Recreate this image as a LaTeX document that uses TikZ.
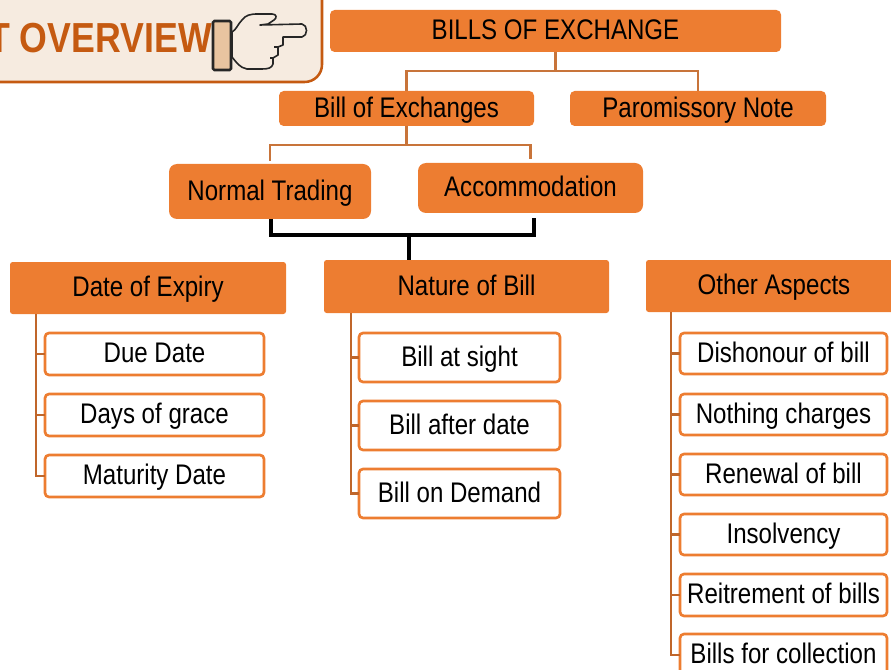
\documentclass[tikz,border=0pt]{standalone}
\usepackage{fontspec}
\setmainfont{Liberation Sans}
\newfontfamily\narrowf[FakeStretch=0.85]{Liberation Sans}
\definecolor{boxor}{HTML}{ED7D31}
\definecolor{connor}{HTML}{C8743A}
\definecolor{treeor}{HTML}{C0662A}
\definecolor{ovfill}{HTML}{F6EBE0}
\definecolor{ovline}{HTML}{C55A11}
\definecolor{cuff}{HTML}{E8C4A0}
\newcommand{\pbox}[7]{%
  \pgfmathsetmacro{\bw}{(#5-#3)*0.75}%
  \pgfmathsetmacro{\bh}{(#6-#4)*0.75}%
  \node[#2,minimum width=\bw pt,minimum height=\bh pt] (#1) at ({(#3+#5)/2},{(#4+#6)/2}) {#7};}
\tikzset{
  lbl/.style={inner sep=0pt,outer sep=0pt,font=\narrowf\fontsize{21.25pt}{25pt}\selectfont,text=black,text height=16.6pt,text depth=3.4pt,align=center},
  solidbox/.style={lbl,fill=boxor,rounded corners=#1},
  solidbox/.default=3.5pt,
  whitebox/.style={lbl,fill=white,draw=boxor,line width=2pt,rounded corners=3pt},
  conn/.style={draw=connor,line width=2.2pt},
  blackconn/.style={draw=black,line width=2.3pt},
  treeconn/.style={draw=treeor,line width=2.05pt}
}
\begin{document}
\begin{tikzpicture}[x=0.75pt,y=-0.75pt]
\useasboundingbox (0,0) rectangle (891,670);
% overview banner
\pbox{ov}{draw=ovline,fill=ovfill,line width=1.9pt,rounded corners=13pt,inner sep=0pt}{-30}{-30}{322}{82}{}
\node[anchor=base east,inner sep=0pt,text=ovline,font=\narrowf\bfseries\fontsize{31.5pt}{36pt}\selectfont] (ovt) at (212,53) {T OVERVIEW};
% pointing hand
\draw[draw=black!85,fill=ovfill,line width=1.2pt,line join=round]
  (232,32) .. controls (236,30) and (238,24) .. (242,20)
  .. controls (246,15) and (250,14) .. (258,14) -- (272,14)
  .. controls (277,14) and (277,18) .. (274,20) -- (268,24) -- (260,25) -- (302,24)
  .. controls (308,25) and (308,36) .. (302,37) -- (283,37)
  -- (283,45) -- (278,47) -- (278,55) -- (273,58) -- (273,64)
  .. controls (272,68) and (268,69) .. (262,69) -- (247,69)
  .. controls (240,68) and (236,62) .. (232,57) -- cycle;
\draw[draw=black!85,line width=1.1pt] (278,47) -- (274,47) (273,58) -- (270,58);
\pbox{cf}{draw=black!85,fill=cuff,line width=1.9pt,rounded corners=1pt}{213}{21}{231}{70}{}
% top
\pbox{top}{solidbox}{330}{10}{781}{52}{BILLS OF EXCHANGE}
\pbox{boe}{solidbox}{279}{91}{534}{126}{Bill of Exchanges}
\pbox{par}{solidbox}{570}{91}{826}{126}{Paromissory Note}
\pbox{nt}{solidbox=6pt}{169}{164}{371}{219}{Normal Trading}
\pbox{acc}{solidbox=6pt}{418}{163}{643}{213}{Accommodation}
\pbox{doe}{solidbox=2pt}{10}{262}{286}{314}{Date of Expiry}
\pbox{nat}{solidbox=2pt}{324}{260}{609}{313}{Nature of Bill}
\pbox{oth}{solidbox=2pt}{646}{260}{902}{312}{Other Aspects}
% date of expiry
\pbox{d1}{whitebox}{45}{333}{264}{375}{Due Date}
\pbox{d2}{whitebox}{45}{394}{264}{436}{Days of grace}
\pbox{d3}{whitebox}{45}{455}{264}{497}{Maturity Date}
% nature
\pbox{n1}{whitebox}{359}{333}{560}{382}{Bill at sight}
\pbox{n2}{whitebox}{359}{401}{560}{450}{Bill after date}
\pbox{n3}{whitebox}{359}{469}{560}{518}{Bill on Demand}
% other
\pbox{o1}{whitebox}{680}{333}{887}{374}{Dishonour of bill}
\pbox{o2}{whitebox}{680}{394}{887}{435}{Nothing charges}
\pbox{o3}{whitebox}{680}{454}{887}{495}{Renewal of bill}
\pbox{o4}{whitebox}{680}{514}{887}{555}{Insolvency}
\pbox{o5}{whitebox}{680}{574}{887}{616}{Reitrement of bills}
\pbox{o6}{whitebox}{680}{634}{887}{676}{Bills for collection}
% connectors
\draw[conn] (top.south) -- ++(0,19) -| (boe.north);
\draw[conn] (top.south) -- ++(0,19) -| (par.north);
\draw[conn,shorten >=2pt] (boe.south) -- ++(0,19) -| (nt.north);
\draw[conn,shorten >=3pt] (boe.south) -- ++(0,19) -| (acc.north);
\coordinate (lj) at (271,235);
\coordinate (rj) at (534,235);
\coordinate (mj) at (409,235);
\draw[blackconn,line join=miter] (lj |- nt.south) |- (rj) -- ([yshift=-3.75pt]rj |- acc.south);
\draw[blackconn] (mj) -- (mj |- nat.north);
\coordinate (t1) at (36,314);
\coordinate (t2) at (351,313);
\coordinate (t3) at (671,312);
\foreach \n in {d1,d2,d3} \draw[treeconn] (t1) |- (\n.west);
\foreach \n in {n1,n2,n3} \draw[treeconn] (t2) |- (\n.west);
\foreach \n in {o1,o2,o3,o4,o5,o6} \draw[treeconn] (t3) |- (\n.west);
\end{tikzpicture}
\end{document}
